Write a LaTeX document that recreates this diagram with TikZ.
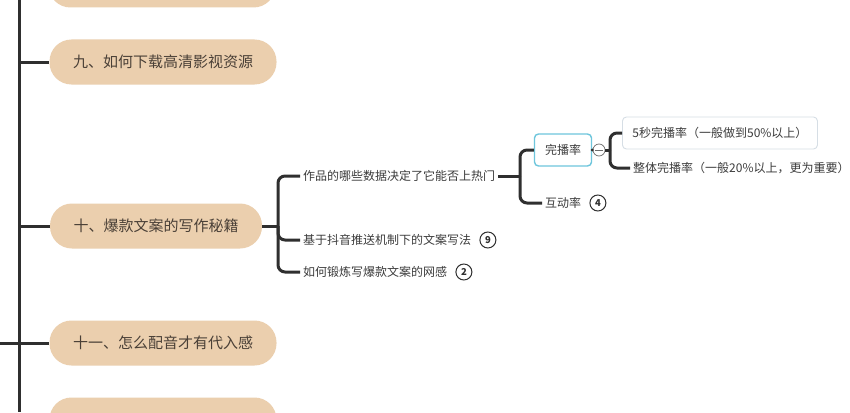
\documentclass[tikz,border=0pt]{standalone}
\usepackage{fontspec}
\setmainfont{Noto Sans CJK SC}
\usepackage{tikz}
\usetikzlibrary{positioning}
\usetikzlibrary{calc}
\usepackage{xcolor}
\definecolor{mybeige}{HTML}{EBCFAE}
\definecolor{myink}{HTML}{2F2F2F}
\definecolor{mytext}{HTML}{3C3C3C}
\definecolor{mybrown}{HTML}{4A4037}
\definecolor{mycyan}{HTML}{6EC6DC}
\definecolor{mygray}{HTML}{D6DEE5}
\tikzset{x=1pt, y=-1pt, every text node part/.style={align=center}}
\tikzstyle{topic} = [fill=mybeige, rounded corners=22pt, minimum width=227pt, minimum height=45pt, text=mybrown, font={\fontsize{15}{18}\selectfont}]
\tikzstyle{sub} = [anchor=west, inner sep=3pt, text=mytext, font={\fontsize{12}{14}\selectfont}]
\tikzstyle{rate} = [draw=mycyan, line width=1.4pt, rounded corners=4pt, minimum width=57pt, minimum height=32pt, inner sep=0pt, text=mytext, font={\fontsize{12}{14}\selectfont}]
\tikzstyle{selbox} = [anchor=west, draw=mygray, line width=0.9pt, rounded corners=4pt, minimum height=32pt, inner xsep=10pt, text=mytext, font={\fontsize{12}{14}\selectfont}]
\tikzstyle{badge} = [circle, draw=myink, line width=1pt, inner sep=0pt, minimum size=16pt, text=myink, font={\fontsize{9.5}{11}\selectfont\bfseries}]
\tikzstyle{fold} = [circle, draw=myink!70, fill=white, line width=0.7pt, minimum size=12pt, inner sep=0pt, path picture={\draw[myink!70, line width=0.7pt] ($(path picture bounding box.west)+(2,0)$) -- ($(path picture bounding box.east)+(-2,0)$);}]
\tikzstyle{spine} = [draw=myink, line width=3pt]
\tikzstyle{ln} = [draw=myink, line width=3pt, rounded corners=7pt]

\begin{document}
\begin{tikzpicture}
  \useasboundingbox[fill=white] (0,0) rectangle (850,412);
  % main topics
  \node[topic] (t8) at (162,-15) {};
  \node[topic] (t9) at (163,62) {九、如何下载高清影视资源};
  \node[topic, minimum width=212pt] (t10) at (156,226) {十、爆款文案的写作秘籍};
  \node[topic] (t11) at (163,343) {十一、怎么配音才有代入感};
  \node[topic] (t12) at (163,420) {};
  % spine
  \coordinate (top) at (19,0);
  \coordinate (bottom) at (19,412);
  \coordinate (s9) at (19,62);
  \coordinate (s10) at (19,226);
  \coordinate (s11) at (0,343);
  \path[spine] (top) -- (bottom);
  \path[spine] (s9) -- (t9.west);
  \path[spine] (s10) -- (t10.west);
  \path[spine] (s11) -- (t11.west);
  % under topic ten
  \node[sub] (hot) at (300,176) {作品的哪些数据决定了它能否上热门};
  \node[sub] (push) at (300,240) {基于抖音推送机制下的文案写法};
  \node[badge, right=5pt of push] (n9) {9};
  \node[sub] (feel) at (300,272) {如何锻炼写爆款文案的网感};
  \node[badge, right=5pt of feel] (n2) {2};
  \coordinate (b10) at (278,226);
  \path[ln] (t10.east) -- (b10);
  \path[ln] (b10) |- (hot.west);
  \path[ln] (b10) |- (push.west);
  \path[ln] (b10) |- (feel.west);
  % data
  \node[rate] (wb) at (563,150) {完播率};
  \node[sub] (hd) at (542,203) {互动率};
  \node[badge, right=5pt of hd] (n4) {4};
  \coordinate (b11) at (520,176);
  \path[ln] (hot.east) -- (b11);
  \path[ln] (b11) |- (wb.west);
  \path[ln] (b11) |- (hd.west);
  % completion rate
  \node[fold] (fold) at (599,150) {};
  \node[selbox] (five) at (622,133) {5秒完播率（一般做到50\%以上）};
  \node[sub] (whole) at (630,168) {整体完播率（一般20\%以上，更为重要）};
  \coordinate (b12) at (610,150);
  \draw[myink, line width=1pt] (wb.east) -- (fold.west);
  \fill[myink] (wb.east) circle (1.6);
  \path[ln] (fold.east) -- (b12);
  \path[ln] (b12) |- (five.west);
  \path[ln] (b12) |- (whole.west);
\end{tikzpicture}
\end{document}
